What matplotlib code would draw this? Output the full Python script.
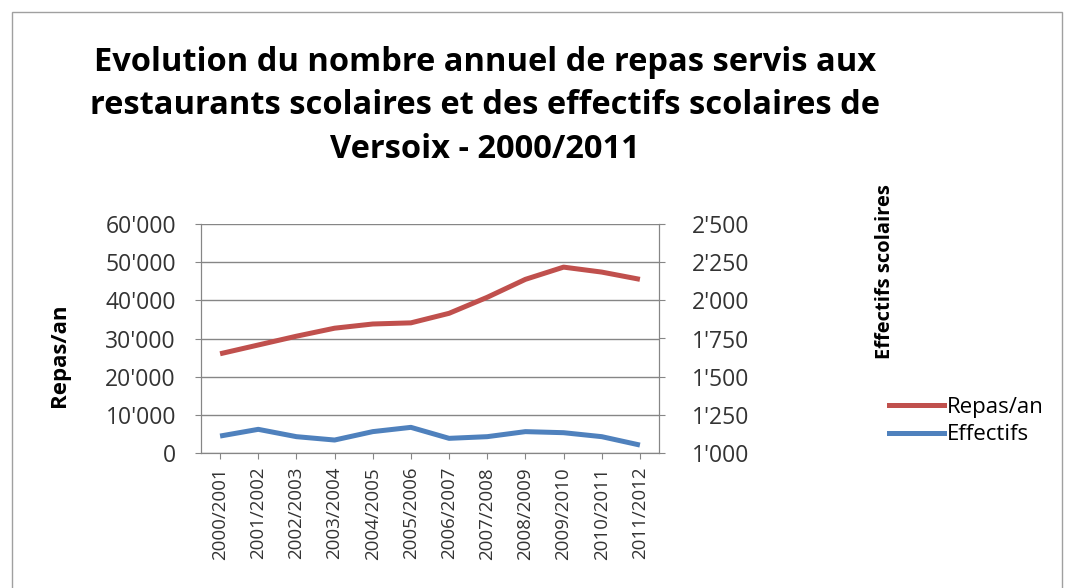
import numpy as np
import matplotlib.pyplot as plt
from matplotlib.ticker import FuncFormatter, FixedLocator
from matplotlib.lines import Line2D
from matplotlib.patches import Rectangle

plt.rcParams['font.family'] = ['Open Sans', 'DejaVu Sans']

# data
annees = ["2000/2001", "2001/2002", "2002/2003", "2003/2004", "2004/2005", "2005/2006",
          "2006/2007", "2007/2008", "2008/2009", "2009/2010", "2010/2011", "2011/2012"]
repas = [26000, 28300, 30600, 32700, 33800, 34100, 36600, 40800, 45500, 48700, 47400, 45500]
effectifs = [1111, 1155, 1107, 1085, 1140, 1168, 1096, 1107, 1140, 1133, 1107, 1052]

titre = "Evolution du nombre annuel de repas servis aux\nrestaurants scolaires et des effectifs scolaires de\nVersoix - 2000/2011"

rouge = "#C0504D"
bleu = "#4F81BD"
gris = "#868686"

def apos(v, pos):
    return f"{v:,.0f}".replace(",", "'")

fig = plt.figure(figsize=(10.7, 5.88), dpi=100)
fig.patches.append(Rectangle((12/1070, -0.1), 1050/1070, 1.1 - 12/588, transform=fig.transFigure,
                             fill=False, edgecolor="#A0A0A0", linewidth=1))

ax = fig.add_axes([201/1070, 135/588, 458/1070, 229/588])
x = np.arange(len(annees))
ax.plot(x, repas, color=rouge, linewidth=3.6, solid_capstyle="butt")
ax.set_xlim(-0.5, len(annees) - 0.5)
ax.set_ylim(0, 60000)
ax.yaxis.set_major_locator(FixedLocator(np.arange(0, 60001, 10000)))
ax.yaxis.set_major_formatter(FuncFormatter(apos))
ax.grid(axis="y", color=gris, linewidth=1)
ax.set_axisbelow(True)
ax.set_xticks(x)
ax.set_xticklabels(annees, rotation=90, fontsize=13.5, color="#333333")
ax.tick_params(axis="y", labelsize=16.5, colors="#333333", length=4, color=gris, pad=14)
ax.tick_params(axis="x", length=4, color=gris, pad=6)
for s in ax.spines.values():
    s.set_color(gris)
ax.spines["top"].set_visible(False)

ax2 = ax.twinx()
ax2.plot(x, effectifs, color=bleu, linewidth=3.6, solid_capstyle="butt")
ax2.set_ylim(1000, 2500)
ax2.yaxis.set_major_locator(FixedLocator(np.arange(1000, 2501, 250)))
ax2.yaxis.set_major_formatter(FuncFormatter(apos))
ax2.tick_params(axis="y", labelsize=16.5, colors="#333333", length=4, color=gris, pad=20)
for s in ax2.spines.values():
    s.set_color(gris)
ax2.spines["top"].set_visible(False)

fig.text(60/1070, 1 - 355/588, "Repas/an", rotation=90, fontsize=16,
         fontweight="bold", ha="center", va="center")
fig.text(885/1070, 1 - 272/588, "Effectifs scolaires", rotation=90, fontsize=14.5,
         fontweight="bold", ha="center", va="center")

fig.text(485/1070, 1 - 106/588, titre, fontsize=23.5, fontweight="bold",
         ha="center", va="center", linespacing=1.43)

handles = [Line2D([], [], color=rouge, linewidth=3.6), Line2D([], [], color=bleu, linewidth=3.6)]
fig.legend(handles, ["Repas/an", "Effectifs"], loc="center left",
           bbox_to_anchor=(880/1070, 1 - 421/588), frameon=False, fontsize=16,
           handlelength=2.5, handletextpad=0.1, labelspacing=0.3, borderaxespad=0)

fig.savefig("out.png", dpi=100, facecolor="white")
